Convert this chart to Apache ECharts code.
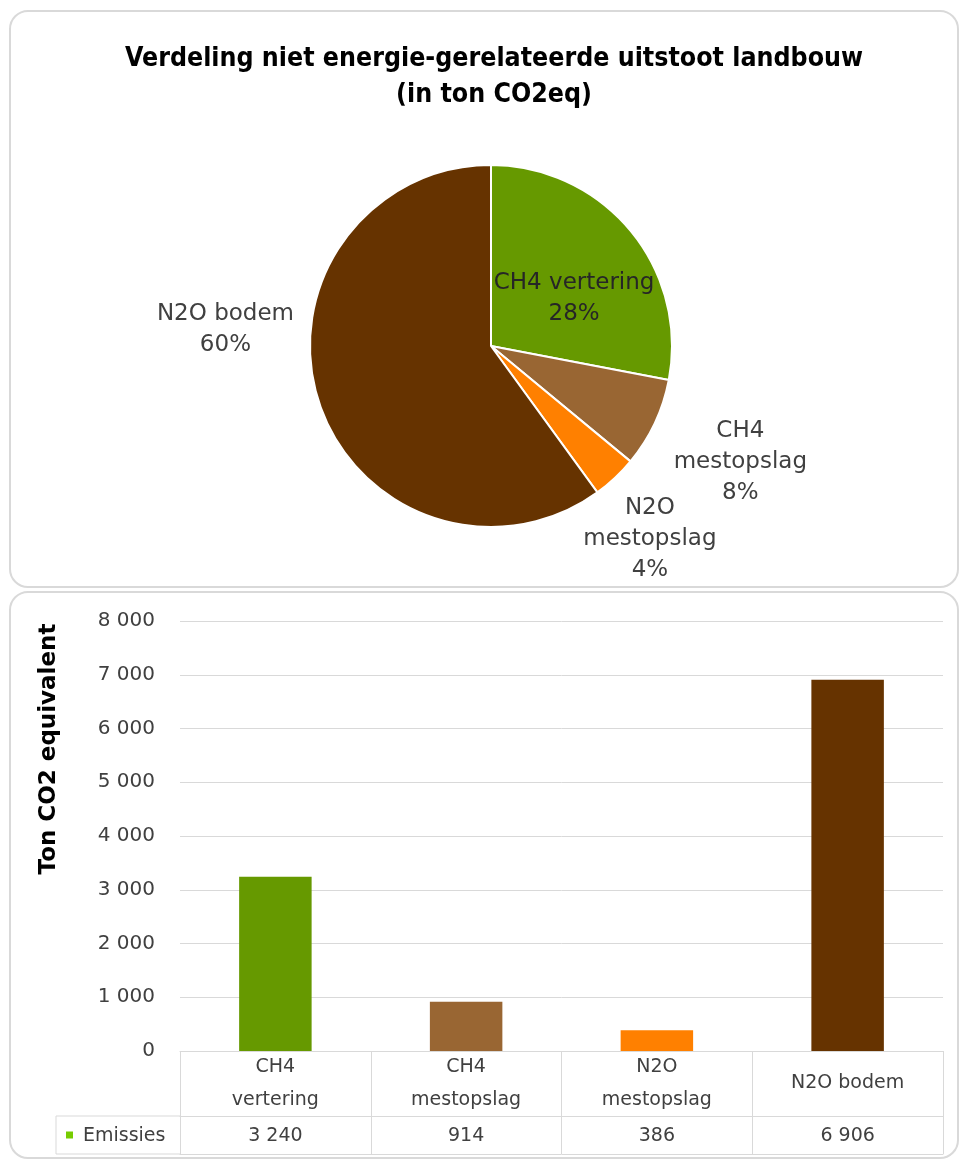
<!DOCTYPE html>
<html>
<head>
<meta charset="utf-8">
<script src="https://cdn.jsdelivr.net/npm/echarts@6/dist/echarts.min.js"></script>
<style>
  html, body { margin: 0; padding: 0; background: #ffffff; }
  #chart { width: 959px; height: 1160px; }
</style>
</head>
<body>
<div id="chart"></div>
<script>
// Emission sources (table / bar categories)
const categories = ['CH4\nvertering', 'CH4\nmestopslag', 'N2O\nmestopslag', 'N2O bodem'];
// Emissions in ton CO2 equivalent
const emissions = [3240, 914, 386, 6906];
// Pie labels and shares (%)
const pieNames = ['CH4 vertering', 'CH4\nmestopslag', 'N2O\nmestopslag', 'N2O bodem'];
const pieShares = [28, 8, 4, 60];
// Value axis ticks
const yTicks = [0, 1000, 2000, 3000, 4000, 5000, 6000, 7000, 8000];
const seriesName = 'Emissies';
const colors = ['#669900', '#996633', '#ff8000', '#663300'];

const FONT = '"DejaVu Sans", sans-serif';
const TXT = '#404040';
const LINE = '#d9d9d9';

// layout
const PIE = { cx: 491, cy: 346, r: 181 };
// label placement around the pie: angle (deg, clockwise from top) and distance (x radius)
const pieLabelPos = [
  { angle: 60, dist: 0.53 },
  { angle: 115, dist: 1.52 },
  { angle: 140.5, dist: 1.38 },
  { angle: 273.5, dist: 1.47 }
];
const GRID = { left: 180, right: 16, top: 621, bottom: 109 };
const ROW1 = 65, ROW2 = 38;
const W = 959, H = 1160;
const axisY = H - GRID.bottom;
const tableLeft = 56;

const fmt = v => String(v).replace(/\B(?=(\d{3})+(?!\d))/g, ' ');

const chart = echarts.init(document.getElementById('chart'), null, { renderer: 'canvas' });

const option = {
  backgroundColor: '#ffffff',
  animation: false,
  title: {
    text: 'Verdeling niet energie-gerelateerde uitstoot landbouw\n(in ton CO2eq)',
    left: 489,
    textAlign: 'center',
    top: 36,
    textStyle: {
      fontFamily: '"Liberation Sans Narrow", "DejaVu Sans Condensed", sans-serif',
      fontWeight: 'bold',
      fontSize: 26.5,
      lineHeight: 36,
      color: '#000000'
    }
  },
  graphic: [
    { type: 'rect', z: -10, silent: true,
      shape: { x: 10, y: 11, width: 948, height: 576, r: 18 },
      style: { fill: 'none', stroke: LINE, lineWidth: 2 } },
    { type: 'rect', z: -10, silent: true,
      shape: { x: 10, y: 592, width: 948, height: 566, r: 18 },
      style: { fill: 'none', stroke: LINE, lineWidth: 2 } },
    // y axis title
    { type: 'text', x: 49, y: 749, rotation: Math.PI / 2,
      style: { text: 'Ton CO2 equivalent', fontFamily: FONT, fontWeight: 'bold', fontSize: 23,
               fill: '#000000', align: 'center', verticalAlign: 'middle' } },
    // left cell of the data table
    { type: 'polyline', silent: true,
      shape: { points: [[GRID.left, axisY + ROW1], [tableLeft, axisY + ROW1], [tableLeft, axisY + ROW1 + ROW2], [GRID.left, axisY + ROW1 + ROW2]] },
      style: { fill: 'none', stroke: LINE, lineWidth: 1 } },
    { type: 'rect', shape: { x: 66, y: axisY + ROW1 + ROW2 / 2 - 3.5, width: 7, height: 7 },
      style: { fill: '#77cc00' } },
    { type: 'text', x: 83, y: axisY + ROW1 + ROW2 / 2 + 1,
      style: { text: seriesName, fontFamily: FONT, fontSize: 19, fill: TXT, align: 'left', verticalAlign: 'middle' } }
  ],
  grid: { left: GRID.left, right: GRID.right, top: GRID.top, bottom: GRID.bottom, containLabel: false },
  xAxis: [
    {
      type: 'category', data: categories, position: 'bottom',
      axisLine: { show: true, lineStyle: { color: LINE, width: 1 } },
      axisTick: { show: true, length: ROW1, interval: 0, lineStyle: { color: LINE } },
      axisLabel: { interval: 0, margin: ROW1 / 2, verticalAlign: 'middle', fontFamily: FONT, fontSize: 19,
                   lineHeight: 33, color: TXT }
    },
    {
      type: 'category', data: categories, position: 'bottom', offset: ROW1,
      axisLine: { show: true, lineStyle: { color: LINE, width: 1 } },
      axisTick: { show: true, length: ROW2, interval: 0, lineStyle: { color: LINE } },
      axisLabel: { interval: 0, margin: ROW2 / 2 + 1, verticalAlign: 'middle', fontFamily: FONT, fontSize: 19,
                   color: TXT, formatter: (v, i) => fmt(emissions[i]) }
    },
    {
      type: 'category', data: categories, position: 'bottom', offset: ROW1 + ROW2,
      axisLine: { show: true, lineStyle: { color: LINE, width: 1 } },
      axisTick: { show: false }, axisLabel: { show: false }
    }
  ],
  yAxis: {
    type: 'value', min: yTicks[0], max: yTicks[yTicks.length - 1], interval: yTicks[1] - yTicks[0],
    axisLine: { show: false }, axisTick: { show: false },
    splitLine: { lineStyle: { color: LINE, width: 1 } },
    axisLabel: { margin: 25, fontFamily: FONT, fontSize: 20, color: TXT, formatter: v => fmt(v) }
  },
  series: [
    {
      type: 'bar', name: seriesName, xAxisIndex: 0, yAxisIndex: 0,
      barWidth: '38%',
      data: emissions.map((v, i) => ({ value: v, itemStyle: { color: colors[i] } }))
    },
    {
      type: 'pie',
      center: [PIE.cx, PIE.cy], radius: PIE.r,
      startAngle: 90, clockwise: true,
      itemStyle: { borderColor: '#ffffff', borderWidth: 2 },
      label: {
        show: true, position: 'outside', formatter: '{b}\n{c}%',
        fontFamily: FONT, fontSize: 23, lineHeight: 31, color: TXT, align: 'center'
      },
      labelLine: { show: false },
      labelLayout: function (p) {
        const L = pieLabelPos[p.dataIndex];
        const a = L.angle * Math.PI / 180;
        return {
          x: PIE.cx + Math.sin(a) * PIE.r * L.dist,
          y: PIE.cy - Math.cos(a) * PIE.r * L.dist,
          align: 'center', verticalAlign: 'middle'
        };
      },
      data: pieShares.map((v, i) => ({
        name: pieNames[i], value: v, itemStyle: { color: colors[i] },
        label: i === 0 ? { color: '#262626' } : {}
      }))
    }
  ]
};

chart.setOption(option);
</script>
</body>
</html>
